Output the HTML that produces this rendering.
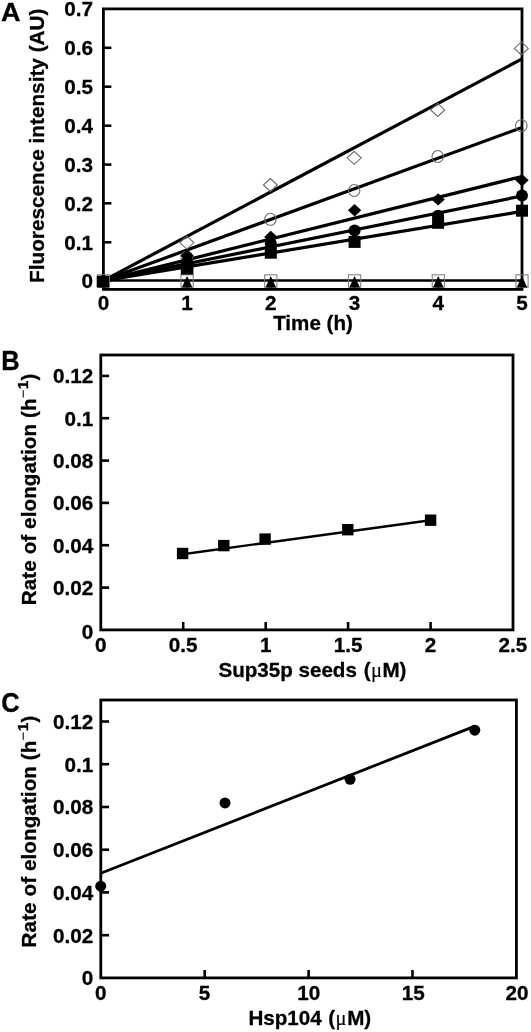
<!DOCTYPE html>
<html>
<head>
<meta charset="utf-8">
<title>Figure</title>
<style>
html,body{margin:0;padding:0;background:#fff;}
body{width:531px;height:1032px;overflow:hidden;}
svg{display:block;filter:blur(0.45px);}
text{font-family:"Liberation Sans",sans-serif;font-weight:bold;fill:#000;stroke:#000;stroke-width:0.3px;stroke-linejoin:round;}
.tk{font-size:20.7px;}
.tt{font-size:20.6px;}
.pl{font-size:25.5px;}
.mn{font-size:15px;font-weight:normal;stroke-width:0;}
.s1{font-size:15.5px;}
.mu{font-family:"Liberation Serif",serif;font-weight:normal;stroke-width:0.15px;}
.ax{stroke:#000;stroke-width:2.8;fill:none;stroke-linecap:square;}
.tick{stroke:#000;stroke-width:2.6;fill:none;}
.ln{stroke:#000;stroke-width:3.2;fill:none;}
.ln2{stroke:#000;stroke-width:2.4;fill:none;}
.om{stroke:#6a6a6a;stroke-width:1.1;fill:none;}
.os{stroke:#7a7a7a;stroke-width:1;fill:none;}
.fm{fill:#000;stroke:none;}
</style>
</head>
<body>
<svg width="531" height="1032" viewBox="0 0 531 1032">
<rect x="0" y="0" width="531" height="1032" fill="#fff"/>

<g id="pA">
<text class="pl" transform="translate(0.9,20.8) scale(1.06,1.03)">A</text>
<text class="tt" transform="translate(43.9,282.9) rotate(-90)" textLength="274.3" lengthAdjust="spacingAndGlyphs">Fluorescence intensity (AU)</text>
<g class="tk" text-anchor="end">
<text x="93" y="16.3">0.7</text>
<text x="93" y="55.2">0.6</text>
<text x="93" y="94.1">0.5</text>
<text x="93" y="133.1">0.4</text>
<text x="93" y="172.0">0.3</text>
<text x="93" y="210.7">0.2</text>
<text x="93" y="249.7">0.1</text>
<text x="93" y="288.0">0</text>
</g>
<g class="tk" text-anchor="middle">
<text x="103.4" y="309.6">0</text>
<text x="187.1" y="309.6">1</text>
<text x="270.8" y="309.6">2</text>
<text x="354.6" y="309.6">3</text>
<text x="438.3" y="309.6">4</text>
<text x="522.0" y="309.6">5</text>
</g>
<text class="tt" x="313" y="330.3" text-anchor="middle">Time (h)</text>
<rect class="ax" x="103.4" y="8.9" width="418.6" height="280.5"/>
<line class="ln2" x1="103.4" y1="280.6" x2="522.0" y2="280.6" style="stroke-width:2.5"/>
<g class="tick">
<line x1="103.4" y1="47.8" x2="111.4" y2="47.8"/>
<line x1="103.4" y1="86.7" x2="111.4" y2="86.7"/>
<line x1="103.4" y1="125.7" x2="111.4" y2="125.7"/>
<line x1="103.4" y1="164.6" x2="111.4" y2="164.6"/>
<line x1="103.4" y1="203.3" x2="111.4" y2="203.3"/>
<line x1="103.4" y1="242.3" x2="111.4" y2="242.3"/>
<line x1="103.4" y1="280.6" x2="111.4" y2="280.6"/>
<line x1="187.1" y1="289.4" x2="187.1" y2="282.0"/>
<line x1="270.8" y1="289.4" x2="270.8" y2="282.0"/>
<line x1="354.6" y1="289.4" x2="354.6" y2="282.0"/>
<line x1="438.3" y1="289.4" x2="438.3" y2="282.0"/>
</g>
<line class="ln" x1="103.4" y1="280.6" x2="522.0" y2="58.9"/>
<line class="ln" x1="103.4" y1="280.6" x2="522.0" y2="127.5"/>
<line class="ln" x1="103.4" y1="280.6" x2="522.0" y2="176.5"/>
<line class="ln" x1="103.4" y1="280.6" x2="522.0" y2="196.0"/>
<line class="ln" x1="103.4" y1="280.6" x2="522.0" y2="211.4"/>
<g class="os">
<rect x="97.3" y="274.8" width="12.2" height="12.4"/>
<rect x="181.0" y="274.8" width="12.2" height="12.4"/>
<rect x="264.7" y="274.8" width="12.2" height="12.4"/>
<rect x="348.5" y="274.8" width="12.2" height="12.4"/>
<rect x="432.2" y="274.8" width="12.2" height="12.4"/>
<rect x="515.9" y="274.8" width="12.2" height="12.4"/>
</g>
<g class="fm">
<path d="M103.4 275.9 l5.3 11.5 h-10.6z"/>
<path d="M187.1 275.9 l5.3 11.5 h-10.6z"/>
<path d="M270.8 275.9 l5.3 11.5 h-10.6z"/>
<path d="M354.6 275.9 l5.3 11.5 h-10.6z"/>
<path d="M438.3 275.9 l5.3 11.5 h-10.6z"/>
<path d="M522.0 275.9 l5.3 11.5 h-10.6z"/>
</g>
<g class="om">
<path d="M186.9 236.1 l7.0 6.5 l-7.0 6.5 l-7.0 -6.5z"/>
<path d="M270.4 178.5 l7.0 6.5 l-7.0 6.5 l-7.0 -6.5z"/>
<path d="M354.2 151.3 l7.0 6.5 l-7.0 6.5 l-7.0 -6.5z"/>
<path d="M437.7 103.4 l7.0 6.5 l-7.0 6.5 l-7.0 -6.5z"/>
<path d="M521.3 41.9 l7.0 6.5 l-7.0 6.5 l-7.0 -6.5z"/>
</g>
<g class="om">
<ellipse cx="186.7" cy="257.2" rx="5.7" ry="6"/>
<ellipse cx="270.4" cy="219.3" rx="5.7" ry="6"/>
<ellipse cx="354.2" cy="190.5" rx="5.7" ry="6"/>
<ellipse cx="437.7" cy="156.5" rx="5.7" ry="6"/>
<ellipse cx="521.3" cy="125.7" rx="5.7" ry="6"/>
</g>
<g class="fm">
<path d="M187.1 249.6 l6.7 6.2 l-6.7 6.2 l-6.7 -6.2z"/>
<path d="M270.8 230.8 l6.7 6.2 l-6.7 6.2 l-6.7 -6.2z"/>
<path d="M354.6 204.1 l6.7 6.2 l-6.7 6.2 l-6.7 -6.2z"/>
<path d="M438.1 193.2 l6.7 6.2 l-6.7 6.2 l-6.7 -6.2z"/>
<path d="M522.0 174.0 l6.7 6.2 l-6.7 6.2 l-6.7 -6.2z"/>
</g>
<g class="fm">
<circle cx="103.2" cy="281.2" r="6"/>
<circle cx="187.1" cy="262.0" r="6"/>
<circle cx="270.8" cy="243.5" r="6"/>
<circle cx="354.6" cy="230.5" r="6"/>
<circle cx="438.1" cy="215.8" r="6"/>
<circle cx="522.0" cy="195.4" r="6"/>
</g>
<g class="fm">
<rect x="96.8" y="275.7" width="12.2" height="11.6"/>
<rect x="180.8" y="262.4" width="12.6" height="12.2"/>
<rect x="264.8" y="246.7" width="12" height="12"/>
<rect x="348.6" y="235.9" width="12" height="12"/>
<rect x="432.1" y="216.8" width="12" height="12"/>
<rect x="516.0" y="204.7" width="12" height="12"/>
</g>
</g>
<g id="pB">
<text class="pl" transform="translate(1.3,370.2) scale(1,1.09)">B</text>
<text class="tt" transform="translate(36.0,605.2) rotate(-90)" style="letter-spacing:0.1px">Rate of elongation (h<tspan class="mn" dy="-8.2" dx="0">−</tspan><tspan class="s1" dx="0.3">1</tspan><tspan dy="8.2" dx="0">)</tspan></text>
<g class="tk" text-anchor="end">
<text x="93.2" y="383.3">0.12</text>
<text x="93.2" y="425.6">0.1</text>
<text x="93.2" y="468.0">0.08</text>
<text x="93.2" y="510.3">0.06</text>
<text x="93.2" y="552.6">0.04</text>
<text x="93.2" y="595.0">0.02</text>
<text x="93.2" y="639.4">0</text>
</g>
<g class="tk" text-anchor="middle">
<text x="100.8" y="652">0</text>
<text x="183.2" y="652">0.5</text>
<text x="265.7" y="652">1</text>
<text x="348.1" y="652">1.5</text>
<text x="430.6" y="652">2</text>
<text x="513.0" y="652">2.5</text>
</g>
<text class="tt" x="218.4" y="677.3">Sup35p seeds <tspan dx="1.2">(</tspan><tspan class="mu" dx="0.3">μ</tspan><tspan dx="0.4">M)</tspan></text>
<rect class="ax" x="100.8" y="355.0" width="412.2" height="274.9"/>
<g class="tick">
<line x1="100.8" y1="587.6" x2="109.1" y2="587.6"/>
<line x1="100.8" y1="545.2" x2="109.1" y2="545.2"/>
<line x1="100.8" y1="502.9" x2="109.1" y2="502.9"/>
<line x1="100.8" y1="460.6" x2="109.1" y2="460.6"/>
<line x1="100.8" y1="418.2" x2="109.1" y2="418.2"/>
<line x1="100.8" y1="375.9" x2="109.1" y2="375.9"/>
<line x1="183.2" y1="629.9" x2="183.2" y2="622.0"/>
<line x1="265.7" y1="629.9" x2="265.7" y2="622.0"/>
<line x1="348.1" y1="629.9" x2="348.1" y2="622.0"/>
<line x1="430.6" y1="629.9" x2="430.6" y2="622.0"/>
</g>
<line class="ln2" x1="182.6" y1="554.2" x2="430.6" y2="520.2"/>
<g class="fm">
<rect x="176.9" y="547.8" width="11.4" height="11.4"/>
<rect x="218.1" y="539.9" width="11.4" height="11.4"/>
<rect x="259.4" y="533.4" width="11.4" height="11.4"/>
<rect x="342.1" y="524.0" width="11.4" height="11.4"/>
<rect x="424.9" y="514.5" width="11.4" height="11.4"/>
</g>
</g>
<g id="pC">
<text class="pl" transform="translate(1.2,711.9) scale(1,1.09)">C</text>
<text class="tt" transform="translate(36.0,947.4) rotate(-90)" style="letter-spacing:0.1px">Rate of elongation (h<tspan class="mn" dy="-8.2" dx="0">−</tspan><tspan class="s1" dx="0.3">1</tspan><tspan dy="8.2" dx="0">)</tspan></text>
<g class="tk" text-anchor="end">
<text x="93.2" y="728.9">0.12</text>
<text x="93.2" y="771.6">0.1</text>
<text x="93.2" y="814.4">0.08</text>
<text x="93.2" y="857.1">0.06</text>
<text x="93.2" y="899.8">0.04</text>
<text x="93.2" y="942.6">0.02</text>
<text x="93.2" y="984.6">0</text>
</g>
<g class="tk" text-anchor="middle">
<text x="100.8" y="1000">0</text>
<text x="204.6" y="1000">5</text>
<text x="308.8" y="1000">10</text>
<text x="413.2" y="1000">15</text>
<text x="517.0" y="1000">20</text>
</g>
<text class="tt" x="248.4" y="1025.1">Hsp104 <tspan dx="0.9">(</tspan><tspan class="mu" dx="0.4">μ</tspan><tspan dx="0.6">M)</tspan></text>
<rect class="ax" x="100.8" y="700.0" width="415.6" height="277.9"/>
<g class="tick">
<line x1="100.8" y1="935.2" x2="109.1" y2="935.2"/>
<line x1="100.8" y1="892.4" x2="109.1" y2="892.4"/>
<line x1="100.8" y1="849.7" x2="109.1" y2="849.7"/>
<line x1="100.8" y1="807.0" x2="109.1" y2="807.0"/>
<line x1="100.8" y1="764.2" x2="109.1" y2="764.2"/>
<line x1="100.8" y1="721.5" x2="109.1" y2="721.5"/>
<line x1="204.7" y1="977.9" x2="204.7" y2="970.0"/>
<line x1="308.6" y1="977.9" x2="308.6" y2="970.0"/>
<line x1="412.5" y1="977.9" x2="412.5" y2="970.0"/>
</g>
<line class="ln2" x1="100.8" y1="873.3" x2="474.4" y2="726.4" style="stroke-width:2.8"/>
<g class="fm">
<circle cx="100.7" cy="886.2" r="5.5"/>
<circle cx="225.0" cy="802.9" r="5.5"/>
<circle cx="350.1" cy="779.3" r="5.5"/>
<circle cx="474.8" cy="730.2" r="5.5"/>
</g>
</g>
</svg>
</body>
</html>
